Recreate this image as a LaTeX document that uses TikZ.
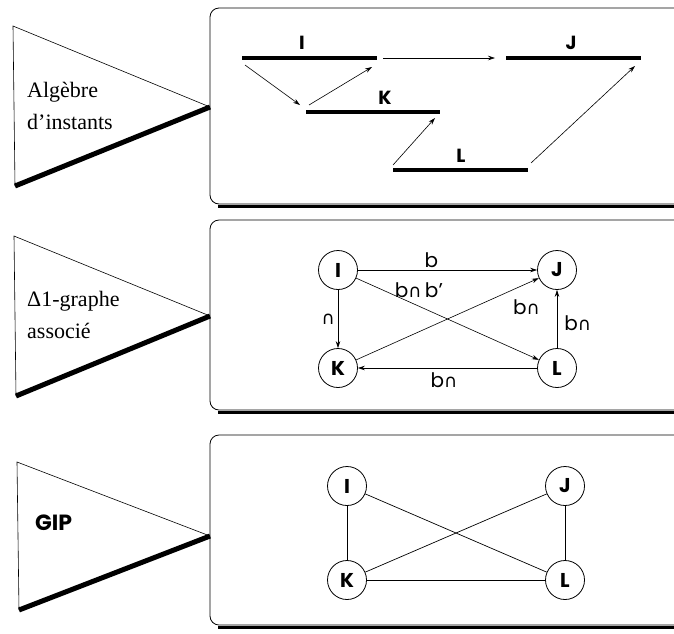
\documentclass[tikz,border=0pt]{standalone}
\usepackage{fontspec}
\setmainfont{Liberation Serif}
\newfontfamily\geo{Poppins}
\newfontfamily\djv{DejaVu Sans}
\usetikzlibrary{arrows.meta}
\newcommand{\capm}{{\djv\fontsize{18}{18}\selectfont ∩}}
\begin{document}
\begin{tikzpicture}[x=1pt,y=-1pt,
  panel/.style={draw, line width=0.8pt, rounded corners=9pt},
  pshadow/.style={line width=3pt},
  tri/.style={draw, line width=0.6pt},
  trishadow/.style={line width=5pt},
  bar/.style={line width=3.5pt},
  arr/.style={-{Stealth[length=7pt,width=4.5pt]}, line width=0.6pt},
  link/.style={line width=0.7pt},
  vtx/.style={circle, draw, line width=0.8pt, minimum size=39pt, inner sep=0pt, font=\geo\bfseries\fontsize{20}{20}\selectfont},
  blab/.style={font=\geo\bfseries\fontsize{19}{19}\selectfont, inner sep=1pt},
  lab/.style={font=\geo\fontsize{20}{20}\selectfont, inner sep=2pt},
  ttext/.style={font=\fontsize{22}{32}\selectfont, align=left, anchor=west, inner sep=0pt},
  gtext/.style={font=\geo\bfseries\fontsize{22}{22}\selectfont, anchor=west, inner sep=0pt}
]
\useasboundingbox (0,0) rectangle (674,633);

% ---------- Panel 1 ----------
\draw[panel] (210,8) rectangle (700,204);
\draw[pshadow] (218,206) -- (700,206);
\coordinate (t1a) at (13,26);
\coordinate (t1b) at (15,186);
\coordinate (t1c) at (210,107);
\draw[tri] (t1c) -- (t1a) -- (t1b);
\draw[trishadow] (t1b) -- (t1c);
\node[ttext] (txt1) at (27,106) {Algèbre\\d’instants};

% intervals
\coordinate (Ia) at (242,58); \coordinate (Ib) at (377,58);
\coordinate (Ja) at (506,58); \coordinate (Jb) at (641,58);
\coordinate (Ka) at (306,112); \coordinate (Kb) at (440,112);
\coordinate (La) at (393,170); \coordinate (Lb) at (528,170);
\draw[bar] (Ia) -- (Ib); \draw[bar] (Ja) -- (Jb);
\draw[bar] (Ka) -- (Kb); \draw[bar] (La) -- (Lb);
\node[blab] (lI) at (302,43) {I};
\node[blab] (lJ) at (571,43) {J};
\node[blab] (lK) at (385,98) {K};
\node[blab] (lL) at (461,156) {L};
\coordinate (a1s) at (383,58); \coordinate (a1e) at (495,58);
\coordinate (a2s) at (245,65); \coordinate (a2e) at (300,105);
\coordinate (a3s) at (309,105); \coordinate (a3e) at (372,67);
\coordinate (a4s) at (393,165); \coordinate (a4e) at (435,118);
\coordinate (a5s) at (531,163); \coordinate (a5e) at (635,66);
\draw[arr] (a1s) -- (a1e);
\draw[arr] (a2s) -- (a2e);
\draw[arr] (a3s) -- (a3e);
\draw[arr] (a4s) -- (a4e);
\draw[arr] (a5s) -- (a5e);

% ---------- Panel 2 ----------
\draw[panel] (210,220) rectangle (700,410);
\draw[pshadow] (218,412) -- (700,412);
\coordinate (t2a) at (14,236);
\coordinate (t2b) at (16,396);
\coordinate (t2c) at (210,316);
\draw[tri] (t2c) -- (t2a) -- (t2b);
\draw[trishadow] (t2b) -- (t2c);
\node[ttext] (txt2) at (27,315) {Δ1-graphe\\associé};

\node[vtx] (I2) at (338,270) {I};
\node[vtx] (J2) at (557,270) {J};
\node[vtx] (K2) at (338,368) {K};
\node[vtx] (L2) at (557,368) {L};
\draw[arr] (I2) -- node[lab, pos=0.41, above] {b} (J2);
\draw[arr] (I2) -- node[lab, pos=0.36, xshift=-3pt, yshift=17pt] {b\capm\,b’} (L2);
\draw[arr] (I2) -- node[lab, left, xshift=-1pt] {\capm} (K2);
\draw[arr] (K2) -- node[lab, pos=0.85, xshift=15pt, yshift=-17pt] {b\capm} (J2);
\draw[arr] (L2) -- node[lab, pos=0.42, right, xshift=5pt] {b\capm} (J2);
\draw[arr] (L2) -- node[lab, pos=0.52, below, yshift=-2pt] {b\capm} (K2);

% ---------- Panel 3 ----------
\draw[panel] (210,435) rectangle (700,625);
\draw[pshadow] (218,627) -- (700,627);
\coordinate (t3a) at (17,462);
\coordinate (t3b) at (19,610);
\coordinate (t3c) at (210,536);
\draw[tri] (t3c) -- (t3a) -- (t3b);
\draw[trishadow] (t3b) -- (t3c);
\node[gtext] (txt3) at (35,523) {GIP};

\node[vtx] (I3) at (347,486) {I};
\node[vtx] (J3) at (565,486) {J};
\node[vtx] (K3) at (347,580) {K};
\node[vtx] (L3) at (565,580) {L};
\draw[link] (I3) -- (K3);
\draw[link] (J3) -- (L3);
\draw[link] (K3) -- (L3);
\draw[link] (I3) -- (L3);
\draw[link] (K3) -- (J3);
\end{tikzpicture}
\end{document}
